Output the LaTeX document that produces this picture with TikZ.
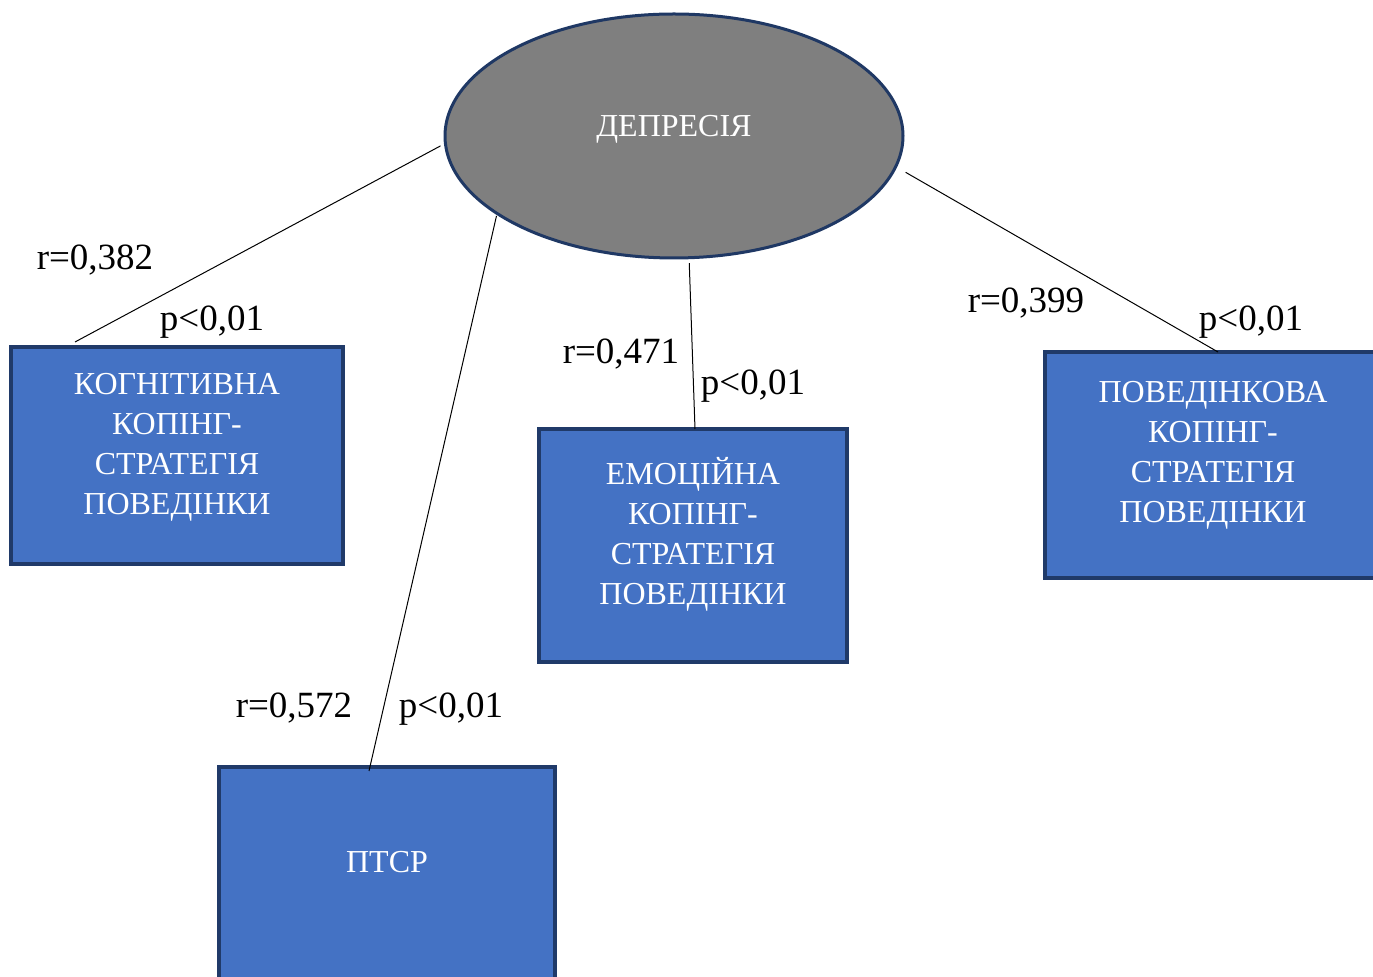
\documentclass[tikz,border=0pt]{standalone}
\usepackage{fontspec}
\setmainfont{Liberation Serif}
\usetikzlibrary{shapes.geometric}
\definecolor{boxfill}{HTML}{4472C4}
\definecolor{boxedge}{HTML}{203A69}
\definecolor{ovalfill}{HTML}{7F7F7F}
\definecolor{ovaledge}{HTML}{1F3864}
\tikzset{
  stratbox/.style={draw=boxedge, fill=boxfill, line width=1.6pt, rectangle,
    inner sep=0pt, outer sep=0pt},
  boxtext/.style={text=white, align=center, inner sep=0pt,
    font=\fontsize{16pt}{20pt}\selectfont},
  oval/.style={draw=ovaledge, fill=ovalfill, line width=1.5pt, ellipse,
    inner sep=0pt, minimum width=229pt, minimum height=122pt,
    text=white, font=\fontsize{16pt}{20pt}\selectfont},
  link/.style={draw=black, line width=0.5pt, shorten <=2pt},
  stat/.style={anchor=base, inner sep=0pt, font=\fontsize{18.5pt}{20pt}\selectfont}
}
\begin{document}
\begin{tikzpicture}[x=0.5pt, y=-0.5pt]
  \clip (0,0) rectangle (1373,977);
  \fill[white] (0,0) rectangle (1373,977);

  % central construct
  \node[oval] (dep) at (674,136) {\raisebox{10pt}{ДЕПРЕСІЯ}};

  % coping strategies and PTSD
  \node[stratbox, minimum width=166pt, minimum height=108.5pt,
        label={[boxtext, yshift=4pt]center:КОГНІТИВНА\\КОПІНГ-\\СТРАТЕГІЯ\\ПОВЕДІНКИ}]
        (cog) at (177,455.5) {};
  \node[stratbox, minimum width=154pt, minimum height=116.5pt,
        label={[boxtext, yshift=5.5pt]center:ЕМОЦІЙНА\\КОПІНГ-\\СТРАТЕГІЯ\\ПОВЕДІНКИ}]
        (emo) at (693,545.5) {};
  \node[stratbox, minimum width=168pt, minimum height=113pt,
        label={[boxtext, yshift=5pt]center:ПОВЕДІНКОВА\\КОПІНГ-\\СТРАТЕГІЯ\\ПОВЕДІНКИ}]
        (beh) at (1213,465) {};
  \node[stratbox, minimum width=168pt, minimum height=116.5pt,
        label={[boxtext, yshift=10.5pt]center:ПТСР}]
        (ptsr) at (387,883.5) {};

  % correlation links
  \draw[link] (dep.182)   -- ([xshift=32pt, yshift=2.5pt]cog.north west);
  \draw[link, shorten <=0.5pt] (dep.204.5) -- ([xshift=75pt, yshift=-2pt]ptsr.north west);
  \draw[link] (dep.277.5) -- ([xshift=78pt]emo.north west);
  \draw[link, shorten <=5pt] (dep.352) -- ([xshift=86.5pt]beh.north west);

  % coefficients
  \node[stat] (r1) at (95,270)   {r=0,382};
  \node[stat] (p1) at (212,331)  {p<0,01};
  \node[stat] (r2) at (621,364)  {r=0,471};
  \node[stat] (p2) at (753,395)  {p<0,01};
  \node[stat] (r3) at (1026,313) {r=0,399};
  \node[stat] (p3) at (1251,331) {p<0,01};
  \node[stat] (r4) at (294,718)  {r=0,572};
  \node[stat] (p4) at (451,718)  {p<0,01};
\end{tikzpicture}
\end{document}
